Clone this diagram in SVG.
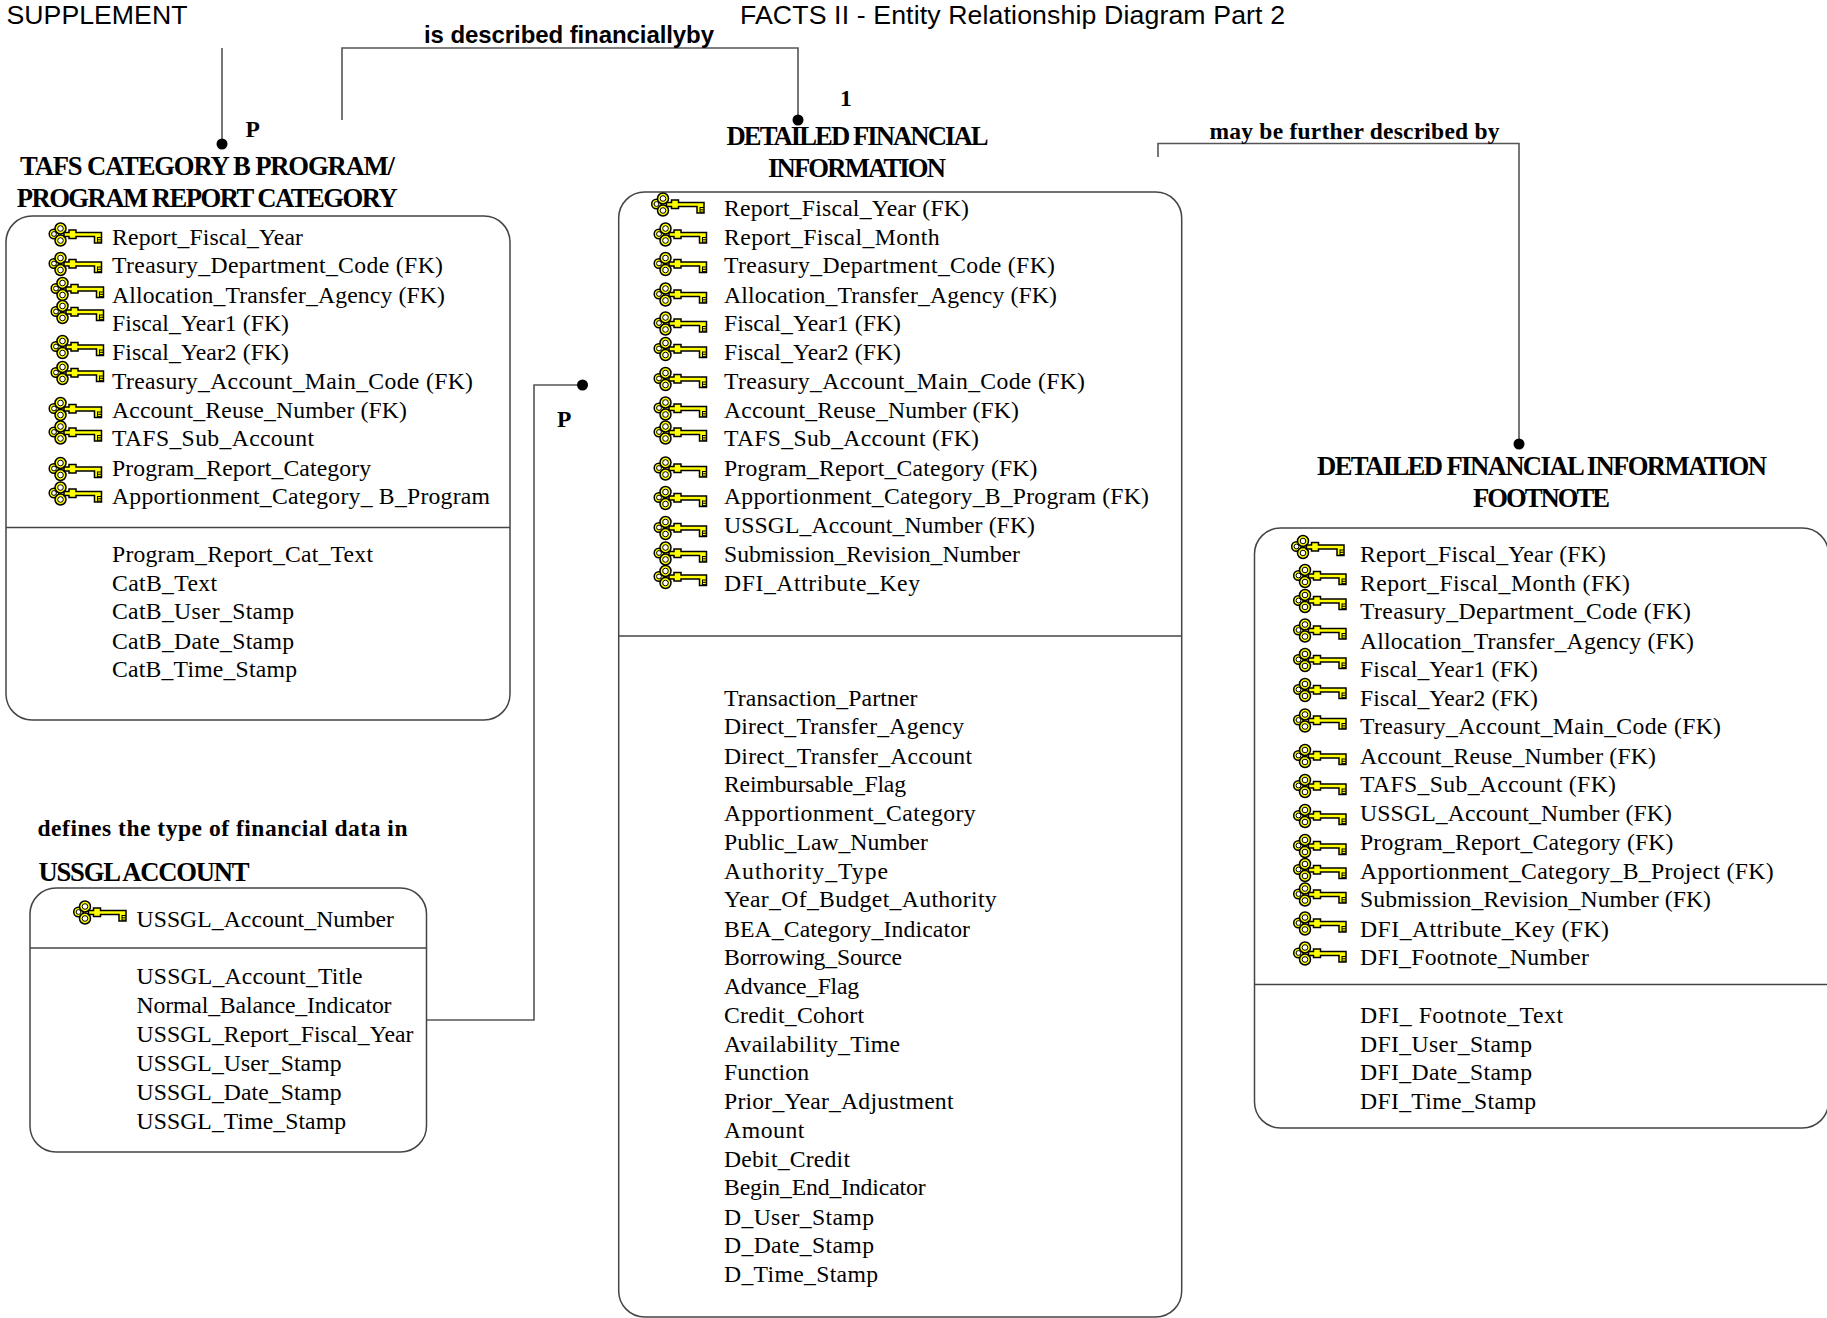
<svg xmlns="http://www.w3.org/2000/svg" width="1827" height="1318" viewBox="0 0 1827 1318">
<style>
text{fill:#000;white-space:pre}
.t{font:23.7px "Liberation Serif","Times New Roman",serif}
.h{font:bold 26.67px "Liberation Serif","Times New Roman",serif}
.b{font:bold 23.5px "Liberation Serif","Times New Roman",serif}
.a{font:26.67px "Liberation Sans",Arial,sans-serif}
.ab{font:bold 24px "Liberation Sans",Arial,sans-serif}
.box{fill:none;stroke:#444;stroke-width:1.5}
.c{fill:none;stroke:#555;stroke-width:1.6}
.d{fill:#000}
</style>
<defs>
<g id="key">
<circle cx="5" cy="11.500" r="4.800" fill="#ff0" stroke="#000" stroke-width="1.500"/>
<circle cx="5" cy="11.500" r="2.400" fill="#fff" stroke="#000" stroke-width="1"/>
<circle cx="11.500" cy="6" r="5.500" fill="#ff0" stroke="#000" stroke-width="1.500"/>
<circle cx="11.500" cy="6" r="2.800" fill="#fff" stroke="#000" stroke-width="1"/>
<circle cx="11.500" cy="18" r="5.500" fill="#ff0" stroke="#000" stroke-width="1.500"/>
<circle cx="11.500" cy="18" r="2.800" fill="#fff" stroke="#000" stroke-width="1"/>
<path d="M15,10H20V7.500H27V10H52.500V20.500H45.500V14H27V16H20V14H15Z" fill="#ff0" stroke="#000" stroke-width="1.500"/>
<path d="M48.500,14.500V20M48.500,15H52.500M48.500,17.300H52M48.500,19.600H52.500" fill="none" stroke="#000" stroke-width="1"/>
</g>
</defs>
<rect width="1827" height="1318" fill="#fff"/>
<g id="titles">
<text class="a" x="6.500" y="24" textLength="181">SUPPLEMENT</text>
<text class="a" x="740" y="24" textLength="545">FACTS II - Entity Relationship Diagram Part 2</text>
</g>
<g id="connectors">
<path class="c" d="M222,48V144"/>
<circle class="d" cx="222" cy="144" r="5.500"/>
<path class="c" d="M342,120V48H798V120"/>
<circle class="d" cx="798" cy="120" r="5.500"/>
<path class="c" d="M1158,157V143.500H1519V444"/>
<circle class="d" cx="1519" cy="444" r="5.500"/>
<path class="c" d="M427,1020H534V385H582"/>
<circle class="d" cx="582.500" cy="385" r="5.500"/>
<text class="ab" x="424" y="43" textLength="290">is described financiallyby</text>
<text class="b" x="1209.500" y="139" textLength="290">may be further described by</text>
<text class="b" x="37.500" y="836" textLength="370">defines the type of financial data in</text>
<text class="b" x="245.500" y="137">P</text>
<text class="b" x="557" y="427">P</text>
<text class="b" x="840" y="106">1</text>
</g>
<g id="tafs">
<text class="h" x="20" y="175" textLength="375">TAFS CATEGORY B PROGRAM/</text>
<text class="h" x="16.700" y="207" textLength="381">PROGRAM REPORT CATEGORY</text>
<rect class="box" x="6" y="216" width="504" height="504" rx="26"/>
<path class="box" d="M6,527.500H510"/>
<use href="#key" x="49" y="222.500"/><use href="#key" x="49" y="252"/><use href="#key" x="51" y="277"/><use href="#key" x="51" y="300"/><use href="#key" x="51" y="335"/><use href="#key" x="51" y="361"/><use href="#key" x="49" y="397"/><use href="#key" x="49" y="420.500"/><use href="#key" x="49" y="457"/><use href="#key" x="49" y="481.500"/>
<text class="t" x="112" y="245" textLength="191">Report_Fiscal_Year</text>
<text class="t" x="112" y="273" textLength="331">Treasury_Department_Code (FK)</text>
<text class="t" x="112" y="302.500" textLength="333">Allocation_Transfer_Agency (FK)</text>
<text class="t" x="112" y="331" textLength="177">Fiscal_Year1 (FK)</text>
<text class="t" x="112" y="359.500" textLength="177">Fiscal_Year2 (FK)</text>
<text class="t" x="112" y="388.500" textLength="361">Treasury_Account_Main_Code (FK)</text>
<text class="t" x="112" y="418" textLength="295">Account_Reuse_Number (FK)</text>
<text class="t" x="112" y="446" textLength="202">TAFS_Sub_Account</text>
<text class="t" x="112" y="476" textLength="259">Program_Report_Category</text>
<text class="t" x="112" y="504" textLength="378">Apportionment_Category_ B_Program</text>
<text class="t" x="112" y="562" textLength="261">Program_Report_Cat_Text</text>
<text class="t" x="112" y="590.500" textLength="105">CatB_Text</text>
<text class="t" x="112" y="619" textLength="182">CatB_User_Stamp</text>
<text class="t" x="112" y="649" textLength="182">CatB_Date_Stamp</text>
<text class="t" x="112" y="677" textLength="185">CatB_Time_Stamp</text>
</g>
<g id="ussgl">
<text class="h" x="38.500" y="881" textLength="211">USSGL ACCOUNT</text>
<rect class="box" x="30" y="888" width="396.500" height="264" rx="26"/>
<path class="box" d="M30,948H426.500"/>
<use href="#key" x="73.500" y="900.500"/>
<text class="t" x="136.500" y="927" textLength="257.500">USSGL_Account_Number</text>
<text class="t" x="136.500" y="984" textLength="226">USSGL_Account_Title</text>
<text class="t" x="136.500" y="1013" textLength="255">Normal_Balance_Indicator</text>
<text class="t" x="136.500" y="1042" textLength="277">USSGL_Report_Fiscal_Year</text>
<text class="t" x="136.500" y="1071" textLength="205">USSGL_User_Stamp</text>
<text class="t" x="136.500" y="1100" textLength="205">USSGL_Date_Stamp</text>
<text class="t" x="136.500" y="1129" textLength="209.500">USSGL_Time_Stamp</text>
</g>
<g id="dfi">
<text class="h" x="726.500" y="145" textLength="262">DETAILED FINANCIAL</text>
<text class="h" x="768" y="177" textLength="178">INFORMATION</text>
<rect class="box" x="618.700" y="192" width="563" height="1125" rx="26"/>
<path class="box" d="M618.700,636H1181.700"/>
<use href="#key" x="651.500" y="192.500"/><use href="#key" x="654" y="222.500"/><use href="#key" x="654" y="252"/><use href="#key" x="654" y="282.500"/><use href="#key" x="654" y="311.500"/><use href="#key" x="654" y="337"/><use href="#key" x="654" y="367"/><use href="#key" x="654" y="396.500"/><use href="#key" x="654" y="420.500"/><use href="#key" x="654" y="456.500"/><use href="#key" x="654" y="486"/><use href="#key" x="654" y="516"/><use href="#key" x="654" y="541.500"/><use href="#key" x="654" y="565"/>
<text class="t" x="724" y="216" textLength="245">Report_Fiscal_Year (FK)</text>
<text class="t" x="724" y="245" textLength="215.500">Report_Fiscal_Month</text>
<text class="t" x="724" y="273" textLength="331">Treasury_Department_Code (FK)</text>
<text class="t" x="724" y="302.500" textLength="333">Allocation_Transfer_Agency (FK)</text>
<text class="t" x="724" y="330.500" textLength="177">Fiscal_Year1 (FK)</text>
<text class="t" x="724" y="360" textLength="177">Fiscal_Year2 (FK)</text>
<text class="t" x="724" y="389" textLength="361">Treasury_Account_Main_Code (FK)</text>
<text class="t" x="724" y="418" textLength="295">Account_Reuse_Number (FK)</text>
<text class="t" x="724" y="446" textLength="255">TAFS_Sub_Account (FK)</text>
<text class="t" x="724" y="476" textLength="313.500">Program_Report_Category (FK)</text>
<text class="t" x="724" y="504" textLength="425">Apportionment_Category_B_Program (FK)</text>
<text class="t" x="724" y="533" textLength="311">USSGL_Account_Number (FK)</text>
<text class="t" x="724" y="561.500" textLength="296">Submission_Revision_Number</text>
<text class="t" x="724" y="590.500" textLength="196">DFI_Attribute_Key</text>
<text class="t" x="724" y="706" textLength="193.400">Transaction_Partner</text>
<text class="t" x="724" y="734" textLength="240">Direct_Transfer_Agency</text>
<text class="t" x="724" y="764" textLength="248">Direct_Transfer_Account</text>
<text class="t" x="724" y="792" textLength="182">Reimbursable_Flag</text>
<text class="t" x="724" y="821" textLength="251.700">Apportionment_Category</text>
<text class="t" x="724" y="850" textLength="204">Public_Law_Number</text>
<text class="t" x="724" y="879" textLength="164">Authority_Type</text>
<text class="t" x="724" y="907" textLength="272.700">Year_Of_Budget_Authority</text>
<text class="t" x="724" y="937" textLength="246">BEA_Category_Indicator</text>
<text class="t" x="724" y="965" textLength="178">Borrowing_Source</text>
<text class="t" x="724" y="994" textLength="135">Advance_Flag</text>
<text class="t" x="724" y="1023" textLength="140">Credit_Cohort</text>
<text class="t" x="724" y="1052" textLength="176">Availability_Time</text>
<text class="t" x="724" y="1080" textLength="85">Function</text>
<text class="t" x="724" y="1109" textLength="229.500">Prior_Year_Adjustment</text>
<text class="t" x="724" y="1138" textLength="80.400">Amount</text>
<text class="t" x="724" y="1166.500" textLength="126">Debit_Credit</text>
<text class="t" x="724" y="1194.500" textLength="201.600">Begin_End_Indicator</text>
<text class="t" x="724" y="1224.500" textLength="150">D_User_Stamp</text>
<text class="t" x="724" y="1252.500" textLength="150">D_Date_Stamp</text>
<text class="t" x="724" y="1282" textLength="154">D_Time_Stamp</text>
</g>
<g id="dfi-footnote">
<text class="h" x="1317" y="475" textLength="450">DETAILED FINANCIAL INFORMATION</text>
<text class="h" x="1473" y="507" textLength="137">FOOTNOTE</text>
<rect class="box" x="1254.500" y="528" width="574" height="600" rx="26"/>
<path class="box" d="M1254.500,984.500H1827"/>
<use href="#key" x="1291.500" y="535"/><use href="#key" x="1293.500" y="564"/><use href="#key" x="1293.500" y="589"/><use href="#key" x="1293.500" y="618.500"/><use href="#key" x="1293.500" y="648"/><use href="#key" x="1293.500" y="678"/><use href="#key" x="1293.500" y="708.500"/><use href="#key" x="1293.500" y="744"/><use href="#key" x="1293.500" y="774"/><use href="#key" x="1293.500" y="804"/><use href="#key" x="1293.500" y="834"/><use href="#key" x="1293.500" y="858"/><use href="#key" x="1293.500" y="882.500"/><use href="#key" x="1293.500" y="911.500"/><use href="#key" x="1293.500" y="941.500"/>
<text class="t" x="1360" y="561.500" textLength="246">Report_Fiscal_Year (FK)</text>
<text class="t" x="1360" y="590.500" textLength="270">Report_Fiscal_Month (FK)</text>
<text class="t" x="1360" y="619" textLength="331">Treasury_Department_Code (FK)</text>
<text class="t" x="1360" y="649" textLength="334">Allocation_Transfer_Agency (FK)</text>
<text class="t" x="1360" y="676.500" textLength="178">Fiscal_Year1 (FK)</text>
<text class="t" x="1360" y="705.500" textLength="178">Fiscal_Year2 (FK)</text>
<text class="t" x="1360" y="734" textLength="361">Treasury_Account_Main_Code (FK)</text>
<text class="t" x="1360" y="764" textLength="296">Account_Reuse_Number (FK)</text>
<text class="t" x="1360" y="792" textLength="256">TAFS_Sub_Account (FK)</text>
<text class="t" x="1360" y="820.500" textLength="312">USSGL_Account_Number (FK)</text>
<text class="t" x="1360" y="850" textLength="313.500">Program_Report_Category (FK)</text>
<text class="t" x="1360" y="879" textLength="413.600">Apportionment_Category_B_Project (FK)</text>
<text class="t" x="1360" y="907" textLength="351">Submission_Revision_Number (FK)</text>
<text class="t" x="1360" y="936.500" textLength="249">DFI_Attribute_Key (FK)</text>
<text class="t" x="1360" y="965" textLength="229">DFI_Footnote_Number</text>
<text class="t" x="1360" y="1023" textLength="203">DFI_ Footnote_Text</text>
<text class="t" x="1360" y="1052" textLength="172">DFI_User_Stamp</text>
<text class="t" x="1360" y="1080" textLength="172">DFI_Date_Stamp</text>
<text class="t" x="1360" y="1109" textLength="176">DFI_Time_Stamp</text>
</g>
</svg>
